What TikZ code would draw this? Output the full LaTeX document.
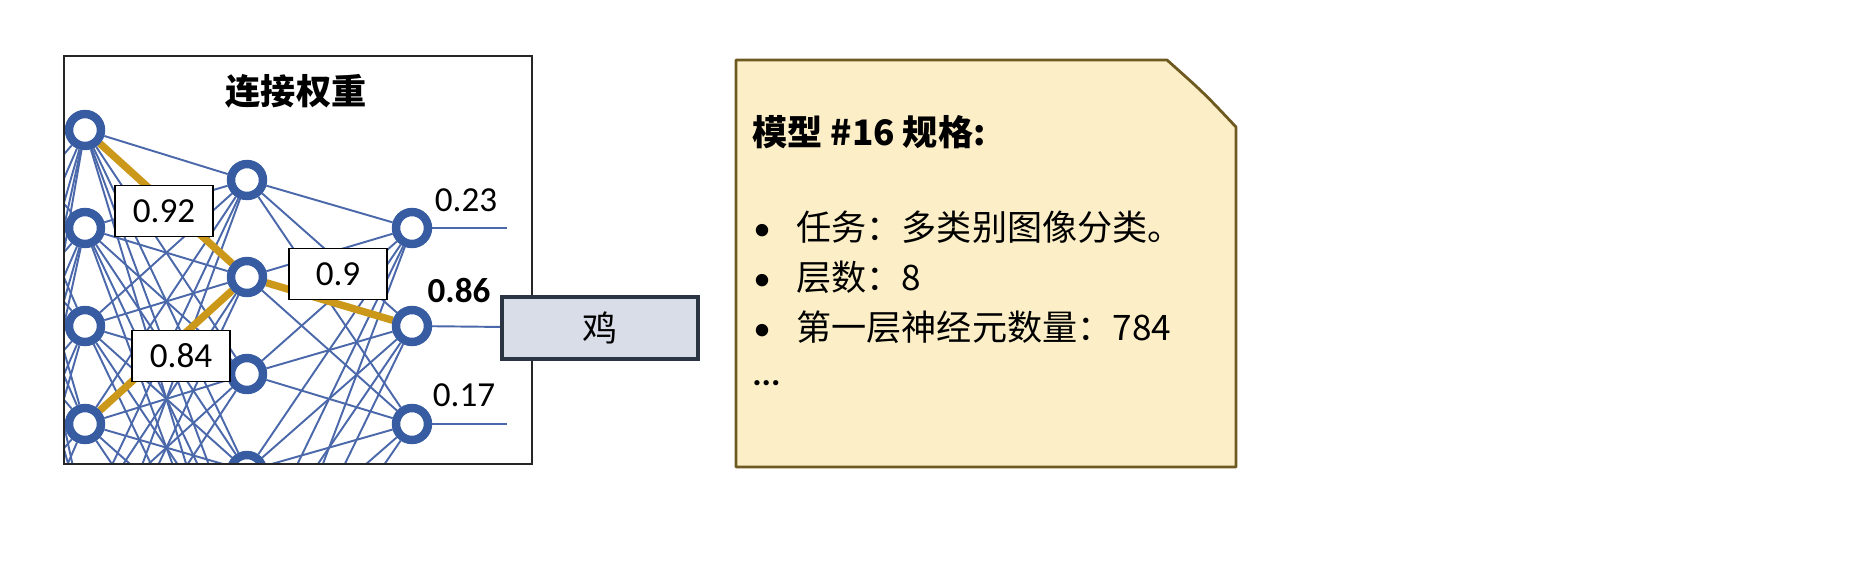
\documentclass[tikz,border=0pt]{standalone}
\usepackage{fontspec}
\setmainfont{Carlito}
\newfontfamily\cjk{Noto Sans CJK SC}
\usetikzlibrary{calc}
\usetikzlibrary{backgrounds}
\definecolor{netblue}{RGB}{56,92,162}
\definecolor{wireblue}{RGB}{74,104,170}
\definecolor{gold}{RGB}{204,152,26}
\definecolor{notefill}{RGB}{252,239,199}
\definecolor{notedraw}{RGB}{110,90,32}
\definecolor{tagfill}{RGB}{217,221,231}
\definecolor{tagdraw}{RGB}{43,52,66}
\newcommand{\bigtext}{\fontsize{20}{24}\selectfont}
\newcommand{\specdot}{\makebox[24.5pt][l]{\rmfamily •}}

\begin{document}
\begin{tikzpicture}[x=0.02cm, y=-0.02cm]
            \tikzstyle{neuron} = [circle, draw=netblue, line width=4.8pt, fill=white, minimum size=0.64cm, inner sep=0pt]
            \tikzstyle{wire} = [wireblue, line width=1.1pt]
            \tikzstyle{strong} = [gold, line width=4.2pt]
            \tikzstyle{weight} = [draw=black, line width=0.6pt, fill=white, minimum width=1.96cm, minimum height=1.02cm, font=\bigtext]
            \tikzstyle{tag} = [draw=tagdraw, line width=2.3pt, fill=tagfill, minimum width=3.92cm, minimum height=1.24cm, font=\bigtext\cjk]
            \tikzstyle{note} = [draw=notedraw, line width=1.6pt, fill=notefill, line join=round]
            \tikzstyle{spec} = [anchor=west, inner sep=0pt, font=\bigtext\cjk]
            \useasboundingbox (0,0) rectangle (1855,576);
            % the network, cut off by the frame
            \begin{scope}
                \clip (64,56) rectangle (532,464);
                \foreach \k in {1,...,6} {
                    \node[neuron] (in\k) at (85, 32+98*\k) {};
                    \node[neuron] (hid\k) at (247, 83+97*\k) {};
                }
                \foreach \k in {1,...,3}
                    \node[neuron] (out\k) at (412, 130+98*\k) {};
            \end{scope}
            \begin{scope}[on background layer]
                \clip (64,56) rectangle (532,464);
                \foreach \k in {1,...,6}
                    \coordinate (pre\k) at (0, 32+98*\k);
                \foreach \i in {1,...,6}
                    \foreach \j in {1,...,6} {
                        \draw[wire] (pre\i) -- (in\j);
                        \draw[wire] (in\i) -- (hid\j);
                    }
                \foreach \i in {1,...,6}
                    \foreach \j in {1,...,3}
                        \draw[wire] (hid\i) -- (out\j);
                \draw[strong] (in1) -- (hid2);
                \draw[strong] (in4) -- (hid2);
                \draw[strong] (hid2) -- (out2);
            \end{scope}
            \draw[line width=0.6pt, black!85] (64,56) rectangle (532,464);
            \node[font=\bigtext\cjk\bfseries] (title) at (296,91) {连接权重};
            % weights on the strong path
            \node[weight] (w1) at (164,211) {0.92};
            \node[weight] (w2) at (338,274) {0.9};
            \node[weight] (w3) at (181,356) {0.84};
            % outputs
            \coordinate (end1) at (507,228);
            \coordinate (end3) at (507,424);
            \node[tag] (tag) at (600,328) {鸡};
            \begin{scope}[on background layer]
                \draw[wire] (out1) -- (end1);
                \draw[wire] (out2) -- (tag);
                \draw[wire] (out3) -- (end3);
            \end{scope}
            \node[font=\bigtext] (p1) at (466,200) {0.23};
            \node[font=\bigtext\bfseries] (p2) at (459,290) {0.86};
            \node[font=\bigtext] (p3) at (464,395) {0.17};
            % spec card
            \draw[note] (736,60) -- (1167,60) .. controls (1204,93) .. (1236,127) -- (1236,467) -- (736,467) -- cycle;
            \node[spec, font=\bigtext\cjk\bfseries] (head) at (752,132) {模型 \#16 规格:};
            \node[spec] (s1) at (753,227) {\specdot 任务：多类别图像分类。};
            \node[spec] (s2) at (753,277) {\specdot 层数：8};
            \node[spec] (s3) at (753,327) {\specdot 第一层神经元数量：784};
            \node[spec, font=\bigtext\bfseries] (more) at (752,383) {...};
\end{tikzpicture}
\end{document}
